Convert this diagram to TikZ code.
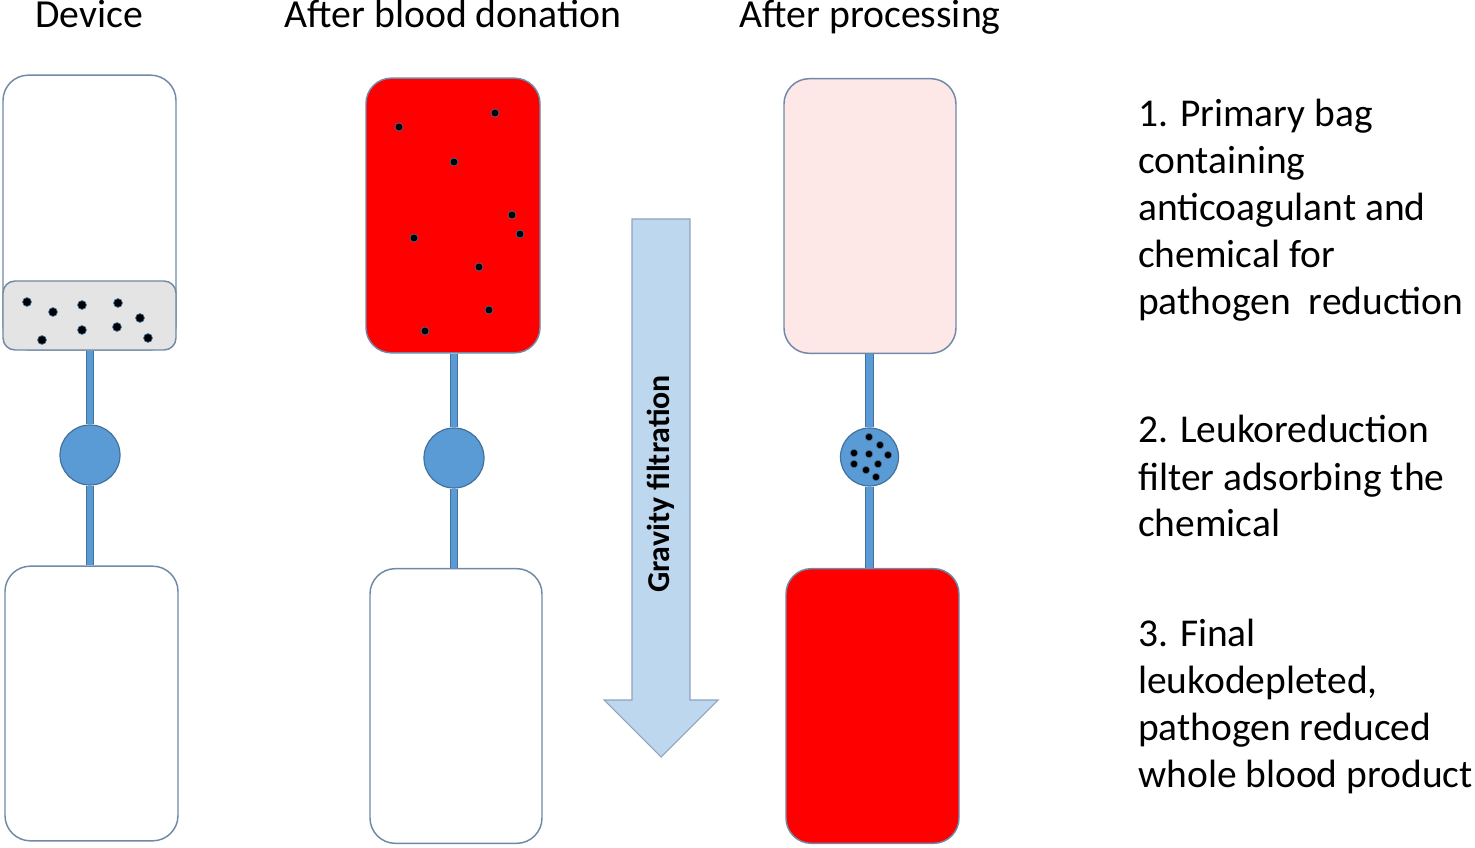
\documentclass[tikz,border=0pt]{standalone}
\usepackage{fontspec}
\setmainfont{Carlito}
\begin{document}
\begin{tikzpicture}[x=0.75pt,y=-0.75pt,
  bagedge/.style={draw=bagline,line width=1.1pt},
  bag/.style={bagedge,rounded corners=19pt,minimum width=129.75pt,minimum height=206pt,inner sep=0pt},
  filt/.style={circle,draw=tubeedge,fill=tubeblue,line width=0.9pt,minimum size=45pt,inner sep=0pt},
  tube/.style={draw=tubeedge,line width=0.6pt,double=tubeblue,double distance=5.2pt},
  dot/.style={fill=black,draw=tubeedge,line width=0.5pt},
  head/.style={font=\fontsize{29.8}{36}\selectfont,anchor=base,inner sep=0pt},
  desc/.style={font=\fontsize{29.6}{35.25}\selectfont,anchor=base west,inner sep=0pt}]
\definecolor{bagline}{HTML}{6F89A6}
\definecolor{tubeblue}{HTML}{5B9BD5}
\definecolor{tubeedge}{HTML}{41719C}
\definecolor{greyfill}{HTML}{E4E4E4}
\definecolor{pinkfill}{HTML}{FDE7E7}
\definecolor{arrowfill}{HTML}{BDD7EE}
\definecolor{arrowedge}{HTML}{8EA4BC}
\useasboundingbox (0,0) rectangle (1475,848);

% headings
\node[head] (h1) at (89,28) {Device};
\node[head] (h2) at (453,28) {After blood donation};
\node[head] (h3) at (870,28) {After processing};

% column 1
\node[bag,fill=white] (b1t) at (89.5,212.5) {};
\node[bagedge,fill=greyfill,rounded corners=9pt,minimum width=129.75pt,minimum height=51.75pt,inner sep=0pt] (g1) at (89.5,315.5) {};
\node[filt] (f1) at (90,455) {};
\node[bag,fill=white] (b1b) at (91.5,703.5) {};
\draw[tube] (g1.south -| f1.north) -- (f1.north);
\draw[tube] (f1.south) -- (f1.south |- b1b.north);
\foreach \x/\y in {27/302,53/312,82/305,118/303,140/318,82/330,117/327,42/340,148/338}
  \fill[dot] (\x,\y) circle (3.3pt);

% column 2
\node[bag,fill=red,minimum width=130.5pt] (b2t) at (453,215.5) {};
\node[filt] (f2) at (454,458) {};
\node[bag,fill=white,minimum width=129pt] (b2b) at (456,706) {};
\draw[tube] (b2t.south -| f2.north) -- (f2.north);
\draw[tube] (f2.south) -- (f2.south |- b2b.north);
\foreach \x/\y in {495/113,399/127,454/162,512/215,520/234,414/238,479/267,489/310,425/331}
  \fill[dot] (\x,\y) circle (3pt);

% column 3
\node[bag,fill=pinkfill,minimum width=129pt] (b3t) at (870,216) {};
\node[filt,minimum size=43.5pt] (f3) at (869.5,457) {};
\node[bag,fill=red,minimum width=129.75pt] (b3b) at (872.5,706) {};
\draw[tube] (b3t.south -| f3.north) -- (f3.north);
\draw[tube] (f3.south) -- (f3.south |- b3b.north);
\foreach \x/\y in {869/437,880/445,854/453,869/454,888/455,854/464,878/464,866/470,876/477}
  \fill[dot] (\x,\y) circle (2.8pt);

% gravity arrow
\draw[fill=arrowfill,draw=arrowedge,line width=0.8pt]
  (632,219) -- (690,219) -- (690,700) -- (718,700) -- (661,757) -- (604,700) -- (632,700) -- cycle;
\node[rotate=90,font=\bfseries\fontsize{23.9}{28}\selectfont] (gl) at (661,484) {Gravity filtration};

% descriptions
\node[desc] (d11) at (1138,127) {1. Primary bag};
\node[desc] (d12) at (1138,174) {containing};
\node[desc] (d13) at (1138,221) {anticoagulant and};
\node[desc] (d14) at (1138,268) {chemical for};
\node[desc] (d15) at (1138,315) {pathogen\ \ reduction};
\node[desc] (d21) at (1138,443) {2. Leukoreduction};
\node[desc] (d22) at (1138,490) {filter adsorbing the};
\node[desc] (d23) at (1138,537) {chemical};
\node[desc] (d31) at (1138,646) {3. Final};
\node[desc] (d32) at (1138,693) {leukodepleted,};
\node[desc] (d33) at (1138,740) {pathogen reduced};
\node[desc] (d34) at (1138,787) {whole blood product};
\end{tikzpicture}
\end{document}
